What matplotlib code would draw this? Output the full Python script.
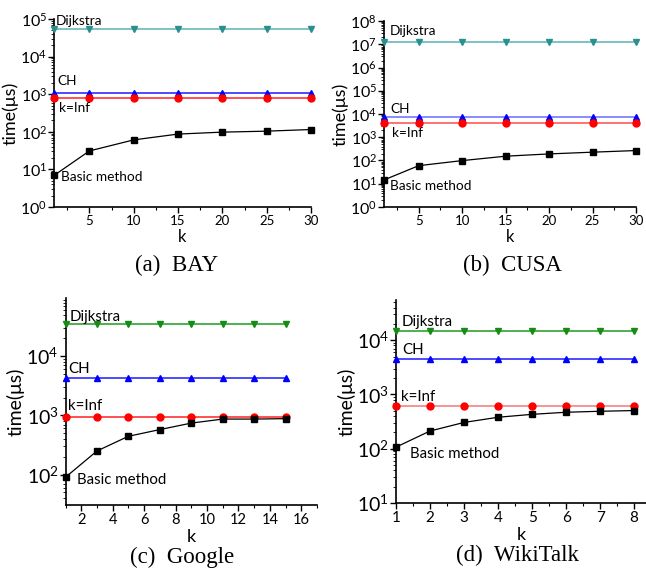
import math
import matplotlib
matplotlib.use("Agg")
import matplotlib.pyplot as plt
from matplotlib.ticker import FixedLocator, LogLocator, FuncFormatter, NullFormatter

plt.rcParams["font.family"] = ["Lato", "DejaVu Sans"]
plt.rcParams["mathtext.fontset"] = "custom"
plt.rcParams["mathtext.rm"] = "Lato"
plt.rcParams["mathtext.it"] = "Lato:italic"
plt.rcParams["mathtext.bf"] = "Lato:bold"

# ---- data -------------------------------------------------------------
k_bay = [1, 5, 10, 15, 20, 25, 30]
bay_dijkstra = [5.5e4, 5.5e4, 5.5e4, 5.5e4, 5.5e4, 5.5e4, 5.5e4]
bay_ch = [1100, 1100, 1100, 1100, 1100, 1100, 1100]
bay_kinf = [800, 800, 800, 800, 800, 800, 800]
bay_basic = [6.9, 31, 61, 87, 98, 104, 115]

k_cusa = [1, 5, 10, 15, 20, 25, 30]
cusa_dijkstra = [1.2e7, 1.2e7, 1.2e7, 1.2e7, 1.2e7, 1.2e7, 1.2e7]
cusa_ch = [7600, 7600, 7600, 7600, 7600, 7600, 7600]
cusa_kinf = [4300, 4300, 4300, 4300, 4300, 4300, 4300]
cusa_basic = [14.6, 60, 99, 153, 192, 228, 268]

k_google = [1, 3, 5, 7, 9, 11, 13, 15]
google_dijkstra = [3.5e4, 3.5e4, 3.5e4, 3.5e4, 3.5e4, 3.5e4, 3.5e4, 3.5e4]
google_ch = [4300, 4300, 4300, 4300, 4300, 4300, 4300, 4300]
google_kinf = [950, 950, 950, 950, 950, 950, 950, 950]
google_basic = [90, 250, 443, 575, 740, 865, 865, 880]

k_wiki = [1, 2, 3, 4, 5, 6, 7, 8]
wiki_dijkstra = [1.5e4, 1.5e4, 1.5e4, 1.5e4, 1.5e4, 1.5e4, 1.5e4, 1.5e4]
wiki_ch = [4500, 4500, 4500, 4500, 4500, 4500, 4500, 4500]
wiki_kinf = [620, 620, 620, 620, 620, 620, 620, 620]
wiki_basic = [107, 212, 305, 380, 430, 470, 490, 505]

captions = ["(a)  BAY", "(b)  CUSA", "(c)  Google", "(d)  WikiTalk"]

W, H = 646, 579
fig = plt.figure(figsize=(W / 100, H / 100), dpi=100)


def box(left, top, right, bottom):
    return [left / W, 1 - bottom / H, (right - left) / W, (bottom - top) / H]


def logfmt(v, pos):
    e = int(round(math.log10(v)))
    return r"10$^{%d}$" % e


def panel(rect, k, dij, ch, kinf, basic, dij_color, dij_line, ch_line, kinf_line,
          xlim, ylim, xticks, xminor, xfs, yfs, lfs, tfs, labels, caption, cap_xy):
    ax = fig.add_axes(rect)
    ax.set_yscale("log")
    ax.plot(k, dij, color=dij_line, lw=1.1, zorder=2)
    ax.plot(k, dij, ls="none", marker="v", ms=5, color=dij_color, zorder=3, clip_on=False)
    ax.plot(k, ch, color=ch_line, lw=1.1, zorder=2)
    ax.plot(k, ch, ls="none", marker="^", ms=5, color="#0000ff", zorder=3, clip_on=False)
    ax.plot(k, kinf, color=kinf_line, lw=1.1, zorder=2)
    ax.plot(k, kinf, ls="none", marker="o", ms=5, color="#ff0000", zorder=3, clip_on=False)
    ax.plot(k, basic, color="black", lw=0.9, marker="s", ms=4.2, zorder=4, clip_on=False)
    ax.set_xlim(*xlim)
    ax.set_ylim(*ylim)
    ax.xaxis.set_major_locator(FixedLocator(xticks))
    ax.xaxis.set_minor_locator(FixedLocator(xminor))
    ax.yaxis.set_major_locator(LogLocator(base=10, numticks=20))
    ax.yaxis.set_minor_locator(LogLocator(base=10, subs=range(2, 10), numticks=20))
    ax.yaxis.set_major_formatter(FuncFormatter(logfmt))
    ax.yaxis.set_minor_formatter(NullFormatter())
    for s in ("top", "right"):
        ax.spines[s].set_visible(False)
    for s in ("left", "bottom"):
        ax.spines[s].set_linewidth(1.2)
    ax.tick_params(axis="x", which="major", labelsize=xfs, length=4, width=1, pad=2)
    ax.tick_params(axis="x", which="minor", length=2.5, width=0.8)
    ax.tick_params(axis="y", which="major", labelsize=yfs, length=4, width=1, pad=1)
    ax.tick_params(axis="y", which="minor", length=2, width=0.6)
    ax.set_ylabel("time(μs)", fontsize=lfs, labelpad=1)
    ax.set_xlabel("k", fontsize=lfs - 1, labelpad=1)
    for txt, x, y in labels:
        ax.text(x, y, txt, fontsize=tfs, ha="left", va="center")
    fig.text(cap_xy[0] / W, 1 - cap_xy[1] / H, caption, fontsize=16.5,
             family=["Liberation Serif", "DejaVu Serif"], ha="center", va="center")
    return ax


teal = "#2a8f8f"
panel(box(54, 19, 311, 207), k_bay, bay_dijkstra, bay_ch, bay_kinf, bay_basic,
      teal, "#5cb3b3", "#1a1aff", "#ff2020",
      (1, 30), (1, 1e5), [5, 10, 15, 20, 25, 30], [2.5, 7.5, 12.5, 17.5, 22.5, 27.5],
      9.5, 11.5, 13, 9.8,
      [("Dijkstra", 1.2, 9e4), ("CH", 1.35, 2250), ("k=Inf", 1.55, 440),
       ("Basic method", 1.8, 6.3)],
      captions[0], (177, 265))

panel(box(384, 21, 636, 207), k_cusa, cusa_dijkstra, cusa_ch, cusa_kinf, cusa_basic,
      teal, "#5cb3b3", "#6b6bff", "#ff4a4a",
      (1, 30), (1, 1e8), [5, 10, 15, 20, 25, 30], [2.5, 7.5, 12.5, 17.5, 22.5, 27.5],
      9.5, 11.5, 13, 9.8,
      [("Dijkstra", 1.65, 3.7e7), ("CH", 1.75, 1.6e4), ("k=Inf", 1.9, 1550),
       ("Basic method", 1.65, 8.3)],
      captions[1], (512, 265))

panel(box(65.5, 298, 317, 505), k_google, google_dijkstra, google_ch, google_kinf, google_basic,
      "#168c16", "#1f9a1f", "#1a1aff", "#ff2020",
      (1, 17), (30.6, 9.6e4), [2, 4, 6, 8, 10, 12, 14, 16], [1, 3, 5, 7, 9, 11, 13, 15, 17],
      10.5, 14, 14, 10.8,
      [("Dijkstra", 1.29, 4.6e4), ("CH", 1.18, 6000), ("k=Inf", 1.18, 1450),
       ("Basic method", 1.75, 80)],
      captions[2], (182, 557))

panel(box(396, 300, 646, 503), k_wiki, wiki_dijkstra, wiki_ch, wiki_kinf, wiki_basic,
      "#168c16", "#1f9a1f", "#1a1aff", "#f07878",
      (1, 8.35), (10, 5.5e4), [1, 2, 3, 4, 5, 6, 7, 8], [1.5, 2.5, 3.5, 4.5, 5.5, 6.5, 7.5],
      11, 14, 14, 10.8,
      [("Dijkstra", 1.17, 2.2e4), ("CH", 1.17, 6600), ("k=Inf", 1.15, 900),
       ("Basic method", 1.41, 79)],
      captions[3], (518, 555))

fig.savefig("out.png", dpi=100)
